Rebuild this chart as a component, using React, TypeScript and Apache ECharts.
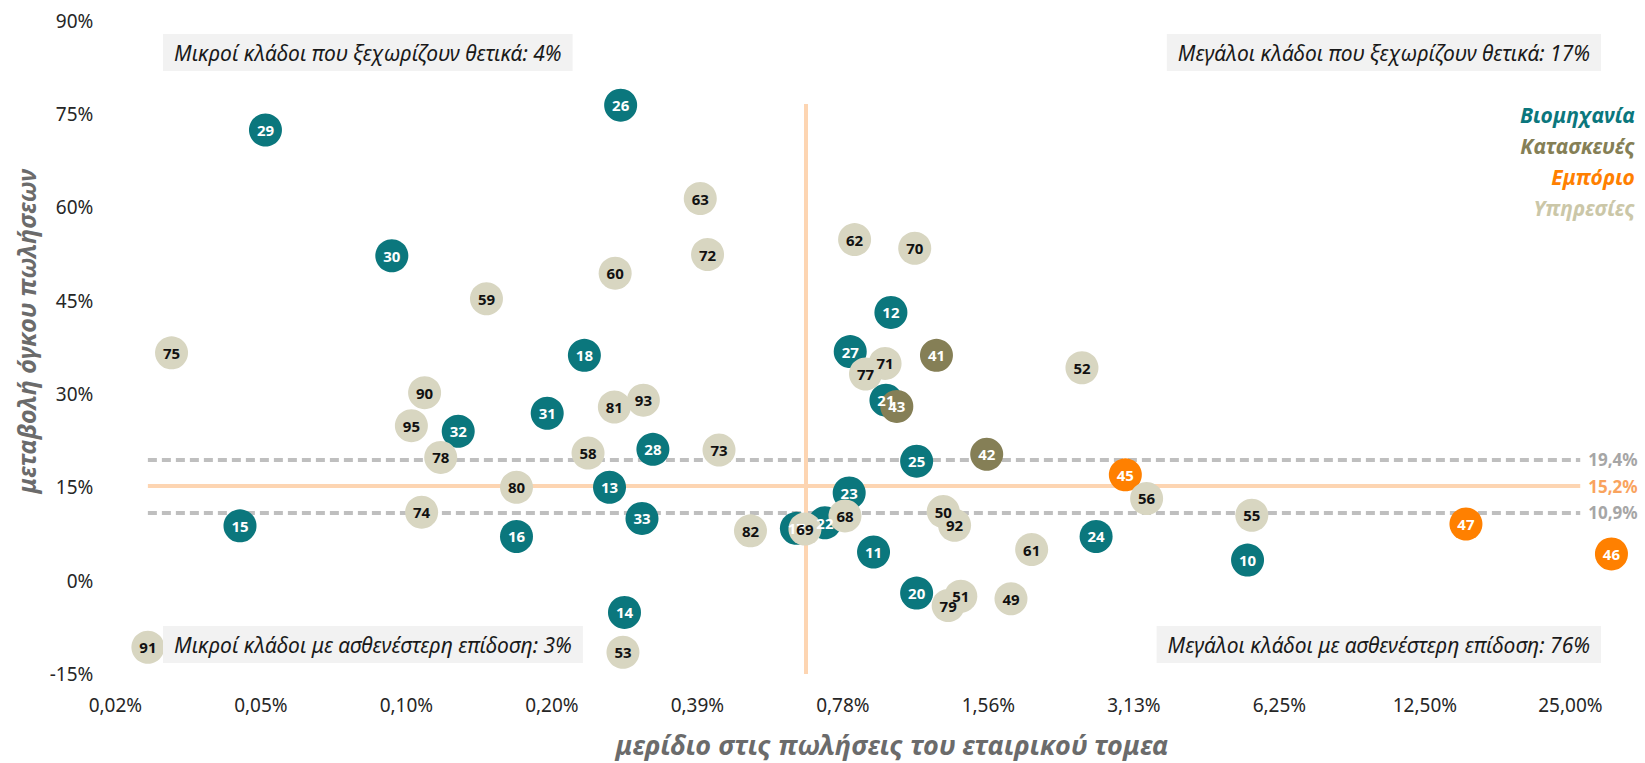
import React, { useEffect, useRef } from "react";
import * as echarts from "echarts";

// ---------- data ----------
const industryCodes = [10, 11, 12, 13, 14, 15, 16, 17, 18, 20, 21, 22, 23, 24, 25, 26, 27, 28, 29, 30, 31, 32, 33];
const industryShare = [5.37, 0.904, 0.982, 0.257, 0.276, 0.0442, 0.165, 0.626, 0.228, 1.11, 0.959, 0.717, 0.805, 2.61, 1.11, 0.271, 0.809, 0.316, 0.0499, 0.0911, 0.191, 0.125, 0.300];
const industryGrowth = [3.3, 4.6, 43.1, 15.0, -5.1, 8.8, 7.1, 8.4, 36.2, -2.0, 29.0, 9.3, 14.1, 7.1, 19.2, 76.4, 36.8, 21.1, 72.4, 52.2, 26.9, 24.0, 10.0];

const constructionCodes = [41, 42, 43];
const constructionShare = [1.22, 1.55, 1.01];
const constructionGrowth = [36.2, 20.3, 28.0];

const tradeCodes = [45, 46, 47];
const tradeShare = [3.0, 30.4, 15.2];
const tradeGrowth = [17.0, 4.3, 9.1];

const servicesCodes = [49, 50, 51, 52, 53, 55, 56, 58, 59, 60, 61, 62, 63, 68, 69, 70, 71, 72, 73, 74, 75, 77, 78, 79, 80, 81, 82, 90, 91, 92, 93, 95];
const servicesShare = [1.74, 1.26, 1.37, 2.44, 0.274, 5.48, 3.32, 0.232, 0.143, 0.264, 1.92, 0.826, 0.396, 0.789, 0.652, 1.10, 0.955, 0.410, 0.433, 0.105, 0.0319, 0.870, 0.115, 1.29, 0.165, 0.263, 0.503, 0.1065, 0.0285, 1.33, 0.302, 0.100];
const servicesGrowth = [-2.9, 11.1, -2.5, 34.2, -11.5, 10.5, 13.2, 20.5, 45.3, 49.4, 5.0, 54.8, 61.4, 10.4, 8.3, 53.4, 34.9, 52.4, 21.0, 11.0, 36.6, 33.2, 19.8, -4.0, 15.0, 27.9, 8.0, 30.2, -10.7, 8.9, 29.0, 24.9];

const sectorNames = ["Βιομηχανία", "Κατασκευές", "Εμπόριο", "Υπηρεσίες"];

const xTickLabels = ["0,02%", "0,05%", "0,10%", "0,20%", "0,39%", "0,78%", "1,56%", "3,13%", "6,25%", "12,50%", "25,00%"];
const xTopShare = 25; // last tick label value (%)

const growthUpper = 19.4;
const growthAverage = 15.2;
const growthLower = 10.9;
const refLabels = ["19,4%", "15,2%", "10,9%"];
const shareThreshold = 0.655;
const refLineStartShare = 0.0285;
const refLineEndShare = 26.2;
const vLineTop = 76.6;

const quadrantTexts = [
  "Μικροί κλάδοι που ξεχωρίζουν θετικά: 4%",
  "Μεγάλοι κλάδοι που ξεχωρίζουν θετικά: 17%",
  "Μικροί κλάδοι με ασθενέστερη επίδοση: 3%",
  "Μεγάλοι κλάδοι με ασθενέστερη επίδοση: 76%",
];

const xAxisTitle = "μερίδιο στις πωλήσεις του εταιρικού τομεα";
const yAxisTitle = "μεταβολή όγκου πωλήσεων";

// ---------- styles ----------
const FONT = '"Noto Sans", "Open Sans", sans-serif';
const C_IND = "#0B777D";
const C_CON = "#857F56";
const C_TRA = "#FF8000";
const C_SER = "#D8D6C1";
const C_SER_TXT = "#CBC7A8";
const C_ORANGE_LINE = "#FDD5B2";
const C_GRAY_LINE = "#BFBFBF";

const toX = (share: number) => Math.log2(share / xTopShare);

function buildData(codes: number[], share: number[], growth: number[]) {
  return codes.map((c, i) => [toX(share[i]), growth[i], c]);
}

export default function App() {
  const ref = useRef<HTMLDivElement>(null);

  useEffect(() => {
    if (!ref.current) return;
    const chart = echarts.init(ref.current, undefined, { renderer: "svg" });

    const scatterSeries = (name: string, data: any[], color: string, labelColor: string) => ({
      type: "scatter",
      name,
      data,
      symbol: "circle",
      symbolSize: 33,
      z: 10,
      itemStyle: { color, opacity: 1 },
      label: {
        show: true,
        position: "inside",
        formatter: (p: any) => String(p.value[2]),
        color: labelColor,
        fontFamily: FONT,
        fontWeight: "bold",
        fontSize: 15,
      },
      emphasis: { disabled: true },
    });

    const hLine = (y: number, color: string, type: any, label: string, labelColor: string) => [
      {
        coord: [toX(refLineStartShare), y],
        lineStyle: { color, width: 4, type, dashOffset: 0 },
        label: {
          show: true,
          position: "end",
          formatter: label,
          color: labelColor,
          fontFamily: FONT,
          fontWeight: "bold",
          fontSize: 17,
          distance: 8,
        },
      },
      { coord: [toX(refLineEndShare), y] },
    ];

    const boxStyle = (text: string) => ({
      text,
      fontFamily: FONT,
      fontStyle: "italic",
      fontSize: 21,
      fill: "#1A1A1A",
      backgroundColor: "#F2F2F2",
      padding: [8, 11, 8, 11],
    });

    const option: any = {
      animation: false,
      grid: { left: 115.4, right: 16.4, top: 20.5, bottom: 85.9, containLabel: false },
      xAxis: {
        type: "value",
        min: -10,
        max: 0.4,
        interval: 1,
        axisLine: { show: false },
        axisTick: { show: false },
        splitLine: { show: false },
        axisLabel: {
          margin: 21,
          fontFamily: FONT,
          fontSize: 19,
          color: "#262626",
          showMaxLabel: false,
          formatter: (v: number) => {
            const i = Math.round(v + 10);
            return Math.abs(v + 10 - i) < 1e-6 && i >= 0 && i < xTickLabels.length ? xTickLabels[i] : "";
          },
        },
        name: xAxisTitle,
        nameLocation: "middle",
        nameGap: 57,
        nameTextStyle: {
          fontFamily: FONT,
          fontSize: 27,
          fontWeight: "bold",
          fontStyle: "italic",
          color: "#6B6B6B",
          padding: [0, 0, 0, 40],
        },
      },
      yAxis: {
        type: "value",
        min: -15,
        max: 90,
        interval: 15,
        axisLine: { show: false },
        axisTick: { show: false },
        splitLine: { show: false },
        axisLabel: {
          margin: 22,
          fontFamily: FONT,
          fontSize: 19,
          color: "#262626",
          formatter: (v: number) => `${v}%`,
        },
        name: yAxisTitle,
        nameLocation: "middle",
        nameGap: 76,
        nameTextStyle: {
          fontFamily: FONT,
          fontSize: 25,
          fontWeight: "bold",
          fontStyle: "italic",
          color: "#6B6B6B",
          padding: [0, 0, 0, 32],
        },
      },
      series: [
        {
          type: "scatter",
          name: "refs",
          data: [],
          silent: true,
          markLine: {
            silent: true,
            z: 3,
            symbol: ["none", "none"],
            animation: false,
            data: [
              hLine(growthUpper, C_GRAY_LINE, [9, 5], refLabels[0], "#A6A6A6"),
              hLine(growthLower, C_GRAY_LINE, [9, 5], refLabels[2], "#A6A6A6"),
              hLine(growthAverage, C_ORANGE_LINE, "solid", refLabels[1], "#F9A35E"),
              [
                {
                  coord: [toX(shareThreshold), -15],
                  lineStyle: { color: C_ORANGE_LINE, width: 4, type: "solid" },
                  label: { show: false },
                },
                { coord: [toX(shareThreshold), vLineTop] },
              ],
            ],
          },
        },
        scatterSeries(sectorNames[0], buildData(industryCodes, industryShare, industryGrowth), C_IND, "#FFFFFF"),
        scatterSeries(sectorNames[1], buildData(constructionCodes, constructionShare, constructionGrowth), C_CON, "#FFFFFF"),
        scatterSeries(sectorNames[2], buildData(tradeCodes, tradeShare, tradeGrowth), C_TRA, "#FFFFFF"),
        scatterSeries(sectorNames[3], buildData(servicesCodes, servicesShare, servicesGrowth), C_SER, "#111111"),
      ],
      graphic: [
        { type: "text", left: 163, top: 34, z: 20, style: boxStyle(quadrantTexts[0]) },
        { type: "text", right: 44, top: 34, z: 20, style: boxStyle(quadrantTexts[1]) },
        { type: "text", left: 163, top: 626, z: 20, style: boxStyle(quadrantTexts[2]) },
        { type: "text", right: 44, top: 626, z: 20, style: boxStyle(quadrantTexts[3]) },
        ...sectorNames.map((n, i) => ({
          type: "text",
          right: 10,
          top: 104 + i * 31,
          z: 20,
          style: {
            text: n,
            fontFamily: FONT,
            fontStyle: "italic",
            fontWeight: "bold",
            fontSize: 21,
            fill: [C_IND, C_CON, C_TRA, C_SER_TXT][i],
          },
        })),
      ],
    };

    chart.setOption(option);
    return () => chart.dispose();
  }, []);

  return (
    <div
      ref={ref}
      style={{ position: "fixed", left: 0, top: 0, width: 1645, height: 763, background: "#FFFFFF" }}
    />
  );
}
